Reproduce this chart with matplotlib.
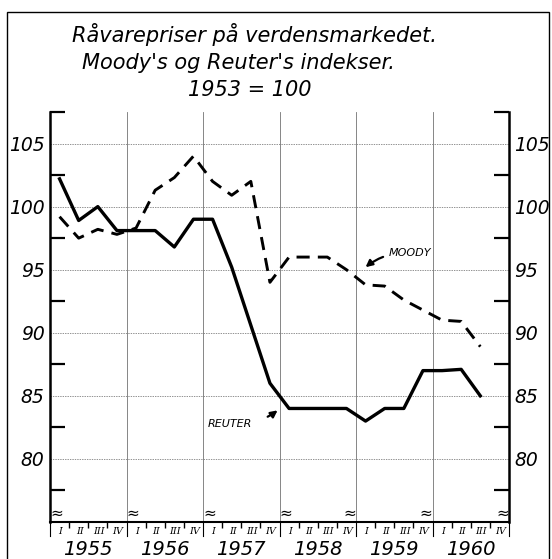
import matplotlib.pyplot as plt
from matplotlib.patches import Rectangle

# data: quarterly index, 1953 = 100 (1955 I .. 1960 III)
years = ['1955', '1956', '1957', '1958', '1959', '1960']
quarter_names = ['I', 'II', 'III', 'IV']
reuter = [102.2, 98.9, 100.0, 98.1, 98.1, 98.1, 96.8, 99.0, 99.0, 95.2, 90.6, 86.0,
          84.0, 84.0, 84.0, 84.0, 83.0, 84.0, 84.0, 87.0, 87.0, 87.1, 85.0]
moody = [99.2, 97.5, 98.2, 97.8, 98.3, 101.3, 102.3, 104.0, 102.0, 100.9, 102.0, 94.0,
         96.0, 96.0, 96.0, 95.0, 93.8, 93.7, 92.6, 91.8, 91.0, 90.9, 88.9]
y_major = [80, 85, 90, 95, 100, 105]
y_minor = [77.5, 82.5, 87.5, 92.5, 97.5, 102.5, 107.5]

plt.rcParams['font.family'] = 'DejaVu Sans'
plt.rcParams['font.style'] = 'italic'

fig = plt.figure(figsize=(5.52, 5.59), dpi=100)
ax = fig.add_axes([50 / 552, 1 - 522 / 559, 459 / 552, 410 / 559])

x = [i + 0.5 for i in range(len(reuter))]
ax.plot(x, reuter, color='black', lw=2.4, zorder=3)
ax.plot(x, moody, color='black', lw=2.1, dashes=(4.5, 2.8), zorder=3)

ax.set_xlim(0, 24)
ax.set_ylim(75, 107.5)

# grid
for v in y_major:
    ax.axhline(v, color='0.4', lw=0.5, ls=(0, (2, 1.5)), zorder=1)
for b in range(4, 24, 4):
    ax.axvline(b, color='0.45', lw=0.6, zorder=1)
for b in range(0, 25, 4):
    ax.plot([b, b], [0, -0.035], transform=ax.get_xaxis_transform(),
            clip_on=False, color='black', lw=0.8)

ax.spines['top'].set_visible(False)
ax.spines['left'].set_linewidth(1.8)
ax.spines['right'].set_linewidth(1.8)
ax.spines['bottom'].set_linewidth(1.5)

ax.set_yticks(y_major)
ax.set_yticks(y_minor, minor=True)
ax.tick_params(axis='y', which='major', length=0, labelleft=True, labelright=True,
               labelsize=13.5, pad=4)
ax.tick_params(axis='y', which='minor', direction='in', length=11, width=1.6,
               left=True, right=True)
ax.set_xticks([])
ax.set_xticks([k for k in range(1, 24) if k % 4], minor=True)
ax.tick_params(axis='x', which='minor', direction='out', length=4, width=1)

# axis labels under the x axis
for i, yr in enumerate(years):
    ax.text(i * 4 + 2, -0.068, yr, transform=ax.get_xaxis_transform(),
            ha='center', va='center', fontsize=14)
    for q in range(4):
        ax.text(i * 4 + q + 0.55, -0.024, quarter_names[q],
                transform=ax.get_xaxis_transform(), ha='center', va='center',
                fontsize=7, family='DejaVu Serif')

# break marks
for bx, ha in [(0, 'left'), (4, 'left'), (8, 'left'), (12, 'left'),
               (16, 'right'), (20, 'right'), (24, 'right')]:
    ax.text(bx, 0.022, '≈', transform=ax.get_xaxis_transform(), fontsize=11,
            ha=ha, va='center', style='normal')

# series labels
ax.annotate('MOODY', xy=(16.5, 95.2), xytext=(17.7, 96.3), fontsize=8,
            ha='left', va='center',
            arrowprops=dict(arrowstyle='-|>', color='black', lw=1.6,
                            mutation_scale=10, shrinkA=2, shrinkB=0,
                            connectionstyle='arc3,rad=0.2'))
ax.annotate('REUTER', xy=(11.9, 83.85), xytext=(9.4, 82.8), fontsize=8,
            ha='center', va='center',
            arrowprops=dict(arrowstyle='-|>', color='black', lw=1.6,
                            mutation_scale=10, shrinkA=10, shrinkB=0,
                            connectionstyle='arc3,rad=0.2'))

# title
fig.text(254 / 552, 1 - 34 / 559, 'Råvarepriser på verdensmarkedet.',
         ha='center', va='center', fontsize=15)
fig.text(238 / 552, 1 - 63 / 559, "Moody's og Reuter's indekser.",
         ha='center', va='center', fontsize=15)
fig.text(250 / 552, 1 - 90 / 559, '1953 = 100', ha='center', va='center',
         fontsize=15)

# outer frame
fig.patches.append(Rectangle((7 / 552, -0.01), 542 / 552, 1 - 12 / 559 + 0.01,
                             transform=fig.transFigure, fill=False,
                             color='black', lw=1))

fig.savefig('out.png', dpi=100)
